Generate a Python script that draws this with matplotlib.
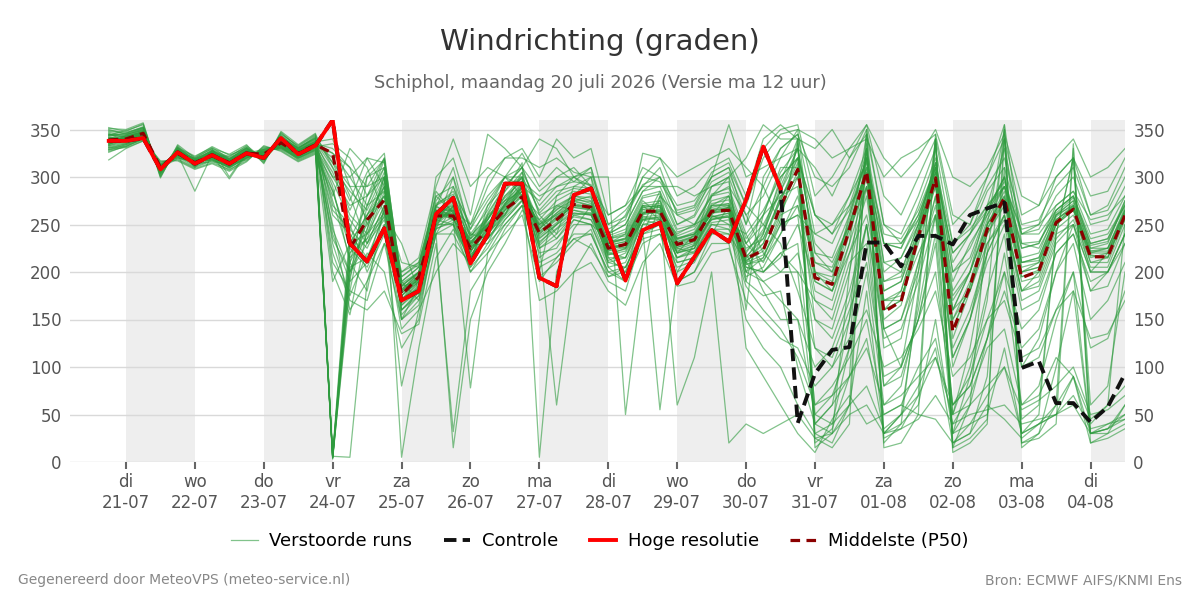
import matplotlib
matplotlib.use("Agg")
import matplotlib.pyplot as plt
from matplotlib.lines import Line2D
from datetime import datetime, timedelta

# ---------------- data ----------------
start_time = datetime(2026, 7, 20, 18)
n_steps = 60  # 6-hourly from 20-07 18h to 04-08 12h
times = [start_time + timedelta(hours=6 * i) for i in range(n_steps)]

hres = [338, 338, 341, 308, 326, 314, 323, 314, 325, 320, 341, 324, 333,
        360, 230, 211, 246, 170, 180, 261, 278, 209, 239, 293, 293,
        194, 185, 281, 288, 240, 191, 244, 252, 188, 216, 244, 232, 276, 332, 288]

control = [338, 338, 341, 308, 326, 314, 323, 314, 325, 320, 341, 324, 333,
           360, 230, 211, 246, 170, 180, 261, 278, 209, 239, 293, 293,
           194, 185, 281, 288, 240, 191, 244, 252, 188, 216, 244, 232, 276, 332, 288,
           41, 93, 118, 121, 231, 231, 206, 238, 238, 229, 260, 267, 273,
           99, 106, 62, 62, 42, 58, 93]

p50 = [339, 340, 346, 310, 325, 315, 323, 315, 325, 324, 336, 325, 334,
       325, 225, 255, 276, 176, 195, 259, 259, 225, 245, 266, 279,
       241, 255, 271, 268, 225, 229, 264, 264, 229, 234, 264, 265, 214, 223, 269,
       308, 194, 187, 245, 306, 158, 169, 237, 299, 137, 185, 245, 278,
       194, 201, 252, 266, 216, 216, 260]

members = [
    [345,342,350,305,328,312,326,318,328,322,340,328,338, 5,200,260,300,165,185,250,265,215,250,280,300, 230,250,275,280,215,200,260,275,220,225,270,280,200,240,300, 320,230,210,250,310,200,215,250,300,190,230,260,290,225,230,265,280,235,240,270],
    [332,336,344,312,322,318,320,312,322,326,333,322,330, 4,230,240,290,180,200,262,255,230,240,260,290, 245,270,265,260,230,235,270,255,235,240,255,260,230,210,250, 340,15,30,200,330,20,40,180,335,15,60,250,350,30,50,240,320,40,60,250],
    [350,345,352,302,330,310,328,320,330,320,344,330,342, 6,5,190,250,150,170,240,270,220,255,290,310, 260,240,290,300,205,190,250,285,210,215,280,300,160,300,330, 345,260,240,280,330,230,225,270,320,210,240,285,310,240,245,280,300,250,255,290],
    [328,334,340,314,320,316,318,310,320,328,330,320,328, 5,210,280,320,190,205,270,280,240,235,255,275, 220,225,255,250,235,240,275,260,240,250,260,250,240,200,220, 230,60,80,110,150,50,60,100,130,40,70,120,140,60,70,110,90,45,60,80],
    [340,338,348,306,324,285,324,316,324,318,338,326,336, 8,245,225,265,175,190,255,250,210,260,275,285, 250,265,280,275,220,215,262,270,200,230,290,295,190,260,310, 310,200,190,260,320,160,170,240,310,130,180,240,275,200,205,250,265,215,220,265],
    [336,343,347,308,326,320,330,300,326,325,335,324,333, 3,190,300,310,160,180,245,290,235,270,300,300, 200,280,300,310,240,250,285,300,250,260,300,310,250,330,350, 355,280,300,330,340,300,320,330,345,260,250,300,355,230,225,260,270,200,220,255],
    [318,330,338,315,321,314,316,314,318,330,332,318,326, 7,220,250,280,200,210,280,262,228,230,250,270, 255,235,260,255,228,225,255,250,225,220,250,245,220,180,150, 150,100,120,170,250,140,150,200,280,100,150,230,260,180,200,250,270,210,215,260],
    [352,348,356,300,332,313,322,322,332,316,346,332,344, 5,180,270,318,155,175,248,258,205,245,285,315, 5,200,245,270,210,205,240,280,190,200,240,270,120,90,60, 30,10,45,70,40,50,60,50,45,20,30,60,45,25,40,50,60,30,40,45],
    [342,340,345,309,327,317,325,313,327,323,337,327,335, 320,280,230,255,185,190,262,260,230,250,265,280, 240,258,268,265,222,230,266,262,232,236,262,268,210,230,280, 300,190,180,240,300,150,165,235,295,140,185,245,275,195,200,250,265,218,215,258],
    [330,335,342,311,323,312,319,309,321,327,331,321,331, 300,300,320,290,170,195,255,275,215,238,272,290, 275,300,310,290,240,260,300,320,280,290,310,320,280,340,355, 340,50,40,120,350,140,100,200,340,30,90,170,355,15,30,100,180,30,35,50],
    [338,341,349,304,329,319,327,317,329,321,342,329,339, 270,250,200,240,140,160,240,250,200,220,250,270, 210,220,240,240,200,190,230,240,190,200,230,230,150,120,100, 60,30,40,60,80,35,50,70,110,60,80,130,180,120,140,200,250,180,200,240],
    [346,337,343,313,325,315,321,311,325,329,334,323,332, 335,320,280,310,195,210,275,300,245,290,320,330, 300,340,320,330,260,270,310,300,270,275,300,355,300,310,320, 330,310,280,320,345,250,230,260,310,160,200,270,330,240,250,300,320,260,270,310],
    [334,344,351,307,331,322,331,319,331,317,339,331,340, 230,175,220,200,120,150,255,265,250,280,300,290, 230,60,200,230,190,180,240,250,220,240,260,280,230,260,280, 290,150,140,200,290,120,130,210,280,110,150,220,260,170,180,230,250,200,200,240],
    [326,333,339,310,319,310,317,307,319,331,329,319,327, 250,160,190,230,200,215,290,340,290,310,300,280, 260,270,280,300,300,50,200,280,260,250,280,290,260,220,200, 200,170,150,210,230,80,100,150,200,60,90,150,200,140,160,220,240,190,200,230],
    [348,346,353,303,333,316,329,321,333,319,345,333,345, 310,265,305,325,180,195,285,262,225,250,270,305, 235,250,262,260,218,225,258,255,222,228,258,262,208,215,255, 335,20,35,90,320,210,200,250,315,200,215,265,300,210,215,260,275,225,230,275],
    [339,339,346,310,325,314,323,298,325,324,336,325,334, 290,210,180,270,165,180,265,255,78,220,240,260, 190,215,235,225,195,205,245,55,200,210,245,240,210,190,170, 150,50,70,120,200,60,80,160,260,50,100,180,240,100,130,200,230,150,170,210],
    [344,349,355,301,330,321,332,323,330,315,347,331,341, 200,155,245,300,5,120,215,245,215,235,260,295, 280,290,300,285,230,240,325,320,300,310,320,330,310,290,250, 260,240,250,270,300,230,225,260,305,220,240,270,290,245,250,270,285,255,260,280],
    [331,332,341,316,318,309,315,308,317,332,328,317,325, 280,330,310,260,230,180,300,320,260,345,330,310, 340,330,300,290,260,270,290,290,290,280,290,300,320,355,340, 340,330,350,320,355,280,260,300,340,250,270,300,340,260,270,320,340,300,310,330],
    [341,343,347,308,327,318,326,315,327,322,338,327,336, 325,300,270,285,185,200,240,15,150,200,230,265, 250,260,270,270,228,228,262,262,60,110,200,20,40,30,40, 50,25,30,50,60,30,35,45,70,40,50,55,60,40,45,50,70,35,40,50],
    [337,336,344,312,324,316,320,312,323,326,334,323,333, 260,240,215,250,80,160,200,230,210,270,290,300, 215,230,250,250,205,210,250,250,215,220,250,250,195,205,240, 280,180,170,230,290,170,170,230,290,150,180,240,270,190,195,245,260,210,210,255],
    [349,347,352,304,331,311,328,319,331,320,343,330,343, 315,275,320,315,175,190,258,262,235,255,280,295, 245,262,278,272,232,235,270,268,236,240,270,270,225,235,275, 320,40,60,150,330,160,180,240,300,50,120,220,340,200,210,255,270,220,225,265],
    [327,332,340,313,320,317,318,311,320,329,331,321,329, 190,230,260,280,190,170,250,270,200,230,265,285, 225,240,260,262,215,215,255,258,220,225,258,258,200,215,260, 270,210,200,245,290,180,190,240,290,170,200,250,280,205,210,255,268,222,222,262],
    [343,345,349,306,328,319,327,318,328,321,341,328,337, 340,290,290,300,150,185,268,310,240,265,300,325, 290,310,295,310,250,265,290,310,260,265,295,305,260,280,320, 350,200,180,230,345,30,50,170,340,20,30,90,310,45,60,240,320,60,80,200],
    [333,339,345,311,323,313,322,314,322,327,332,322,332, 220,170,160,180,135,145,230,32,180,210,245,270, 170,180,200,210,180,165,210,230,185,190,220,225,170,150,130, 120,80,100,130,160,100,110,140,180,90,110,150,170,110,120,160,180,130,135,170],
    [340,341,347,309,326,315,324,315,325,324,336,325,334, 305,260,240,262,182,198,262,258,222,242,268,282, 242,256,270,268,226,228,262,266,228,234,262,266,212,222,268, 305,195,188,246,305,160,170,238,298,140,186,246,278,195,202,252,266,217,216,260],
    [335,338,346,310,325,317,323,316,326,323,337,326,335, 330,310,250,295,178,192,252,268,238,258,275,300, 265,285,290,288,238,245,280,285,245,250,282,288,240,265,300, 320,260,250,280,315,240,235,265,310,230,245,270,295,240,240,265,280,230,235,270],
    [351,350,357,299,334,320,330,324,334,314,348,334,346, 245,200,230,270,210,205,270,285,250,300,320,320, 310,320,305,300,245,255,300,295,265,270,305,315,270,250,230, 180,120,110,160,210,90,100,150,230,30,60,130,200,60,80,150,200,30,30,40],
    [329,331,338,317,317,308,314,306,316,333,327,316,324, 285,225,205,245,170,188,246,252,218,236,258,276, 228,245,258,255,212,220,255,256,215,225,255,258,205,200,215, 250,190,180,220,260,170,175,220,260,160,180,230,255,180,190,240,250,200,200,240],
    [344,342,348,307,327,316,325,317,327,321,339,328,337, 310,285,265,305,188,200,265,265,232,248,272,288, 255,275,285,282,235,238,272,275,238,245,275,280,230,250,285, 330,220,215,260,320,190,200,250,315,180,210,260,300,215,220,265,280,230,235,275],
    [336,337,343,311,324,314,321,313,324,326,333,323,332, 275,215,235,258,172,183,258,272,226,262,290,298, 195,210,230,245,195,200,235,240,210,215,245,245,190,175,180, 100,40,60,90,130,30,50,80,120,20,40,70,100,30,40,60,90,20,30,60],
    [337,340,346,309,326,318,324,314,326,324,337,326,335, 6,210,245,300,170,190,255,262,222,245,270,290, 238,252,268,266,224,228,262,264,226,232,264,268,214,230,275, 315,30,20,60,335,25,35,70,340,15,25,45,350,20,25,40,330,20,25,35],
    [345,344,351,305,329,313,327,319,329,320,342,329,340, 5,235,270,310,160,178,262,280,230,255,285,305, 270,290,295,292,240,250,285,290,250,258,290,300,250,290,330, 345,300,290,310,350,250,240,280,330,230,250,290,320,250,255,290,310,260,265,300],
    [331,335,342,313,322,316,319,311,321,328,331,320,329, 240,190,210,265,185,200,270,255,235,250,260,280, 225,235,255,250,210,215,250,255,215,222,252,255,200,190,200, 220,150,130,180,250,130,140,190,260,110,150,210,250,160,170,220,240,180,185,230],
    [342,339,347,307,327,317,325,316,327,322,339,327,336, 4,195,255,290,175,195,250,250,215,240,265,285, 248,262,275,270,228,232,268,270,232,238,268,272,215,240,290, 330,220,200,255,320,180,190,245,310,160,200,255,290,210,215,260,275,225,225,268],
    [334,341,348,309,325,315,322,313,324,325,335,324,333, 325,310,290,320,190,205,280,290,245,275,300,310, 285,300,300,305,250,258,292,300,262,268,300,310,270,320,345, 350,340,320,330,355,320,300,320,350,300,290,310,345,280,270,300,320,280,285,320],
    [347,343,350,304,330,319,328,318,330,319,343,330,341, 210,180,170,230,150,165,240,240,205,225,255,275, 205,215,235,240,200,205,240,245,205,212,240,240,185,160,140, 110,60,70,90,120,60,70,90,110,50,60,80,100,55,65,80,100,50,55,70],
    [329,334,341,312,321,311,318,310,320,329,330,320,328, 295,255,230,270,180,195,262,270,228,248,275,292, 243,258,272,268,225,230,264,265,230,235,265,268,212,225,262, 300,200,195,250,305,170,180,240,300,150,190,250,280,200,205,255,268,220,220,262],
    [340,342,347,308,326,316,324,315,326,323,337,326,336, 5,220,235,285,168,186,258,266,225,246,272,295, 252,268,280,278,230,236,270,272,235,242,272,276,220,245,295, 340,25,15,40,345,15,20,50,345,10,20,40,340,20,30,60,335,30,35,60],
    [336,339,345,310,324,314,322,313,324,325,334,324,332, 265,245,300,318,178,192,265,260,230,252,268,290, 236,250,265,262,220,224,258,260,224,230,258,262,208,212,240, 270,170,160,220,280,140,150,210,270,120,160,220,260,180,185,235,255,205,205,250],
    [344,346,352,306,328,318,326,317,328,321,340,328,338, 315,290,255,280,160,175,250,300,220,260,290,310, 262,280,288,285,236,242,278,282,242,248,280,284,235,260,305, 330,240,230,270,325,210,215,255,315,200,225,265,300,225,230,270,285,240,245,280],
    [333,337,343,311,323,315,320,312,322,327,332,322,330, 235,200,240,275,195,208,272,282,238,256,278,296, 240,255,270,266,222,226,260,264,226,232,262,264,210,218,250, 260,120,100,150,250,80,90,150,240,60,80,130,220,100,110,160,200,120,130,180],
    [339,341,348,308,327,317,325,316,327,322,338,327,337, 300,270,280,300,182,196,268,264,232,250,270,285, 250,266,276,274,230,234,268,270,234,240,270,272,222,242,285, 320,260,240,265,320,230,230,255,305,220,240,265,290,230,232,262,278,228,232,272],
    [341,338,346,309,325,314,323,314,325,324,336,325,334, 5,205,215,260,172,182,245,255,218,240,262,282, 232,246,262,260,218,222,256,258,220,228,256,258,205,200,220, 200,40,30,60,180,30,40,60,150,30,40,50,120,30,40,50,90,30,35,45],
    [335,340,344,310,324,316,321,313,323,326,333,323,331, 285,230,260,290,186,199,260,268,224,244,266,288, 246,260,274,270,228,232,266,268,230,238,266,270,216,235,278, 310,210,205,250,310,190,195,245,305,175,200,250,285,210,212,258,272,222,225,265],
]

day_abbr = ["ma", "di", "wo", "do", "vr", "za", "zo"]
y_ticks = [0, 50, 100, 150, 200, 250, 300, 350]

title = "Windrichting (graden)"
subtitle = "Schiphol, maandag 20 juli 2026 (Versie ma 12 uur)"
footer_left = "Gegenereerd door MeteoVPS (meteo-service.nl)"
footer_right = "Bron: ECMWF AIFS/KNMI Ens"

# ---------------- styles ----------------
GREEN = "#2e9b3e"
RED = "#ff0000"
DARKRED = "#8b0000"
TICKC = "#555555"
CTRL_DASH = (0, (3.2, 1.6))
P50_DASH = (0, (3.0, 2.0))

fig = plt.figure(figsize=(12, 6), dpi=100)
ax = fig.add_axes([70 / 1200, 1 - 462 / 600, (1125 - 70) / 1200, (462 - 120) / 600])

# alternating day shading
first_day = datetime(2026, 7, 21)
x_left = datetime(2026, 7, 20, 4, 30)
x_right = times[-1]
for k in range(0, 16, 2):
    d0 = first_day + timedelta(days=k)
    d1 = min(d0 + timedelta(days=1), x_right)
    if d0 < x_right:
        ax.axvspan(d0, d1, color="#eeeeee", zorder=0, lw=0)

for m in members:
    ax.plot(times, m, color=GREEN, lw=0.9, alpha=0.6, zorder=2)

ax.plot(times, p50, color=DARKRED, lw=2.3, ls=P50_DASH, zorder=3)
ax.plot(times, control, color="#111111", lw=2.8, ls=CTRL_DASH, zorder=4)
ax.plot(times[:len(hres)], hres, color=RED, lw=2.8, zorder=5)

ax.set_xlim(x_left, x_right)
ax.set_ylim(0, 360)
ax.set_yticks(y_ticks)
ax.yaxis.grid(True, color="#d9d9d9", lw=1)
ax.set_axisbelow(True)
for s in ax.spines.values():
    s.set_visible(False)

tick_days = [first_day + timedelta(days=k) for k in range(15)]
ax.set_xticks(tick_days)
ax.set_xticklabels([f"{day_abbr[d.weekday()]}\n{d.strftime('%d-%m')}" for d in tick_days])
ax.tick_params(axis="x", length=5, width=1.5, color="#666666", labelsize=12,
               labelcolor=TICKC, pad=3)
ax.tick_params(axis="y", length=0, labelsize=12, labelcolor=TICKC,
               labelleft=True, labelright=True, pad=6)

fig.text(0.5, 0.93, title, ha="center", va="center", fontsize=21, color="#333333")
fig.text(0.5, 0.862, subtitle, ha="center", va="center", fontsize=12.8, color="#666666")

handles = [
    Line2D([], [], color=GREEN, lw=0.9, alpha=0.6),
    Line2D([], [], color="#111111", lw=2.8, ls=CTRL_DASH),
    Line2D([], [], color=RED, lw=2.8),
    Line2D([], [], color=DARKRED, lw=2.3, ls=P50_DASH),
]
labels = ["Verstoorde runs", "Controle", "Hoge resolutie", "Middelste (P50)"]
fig.legend(handles, labels, loc="center", bbox_to_anchor=(0.5, 0.098), ncol=4,
           frameon=False, fontsize=13, handlelength=1.45, columnspacing=1.75,
           handletextpad=0.65)

fig.text(18 / 1200, 1 - 580 / 600, footer_left, ha="left", va="center",
         fontsize=10, color="#888888")
fig.text(1182 / 1200, 1 - 580 / 600, footer_right, ha="right", va="center",
         fontsize=10, color="#888888")

fig.savefig("out.png", dpi=100)
